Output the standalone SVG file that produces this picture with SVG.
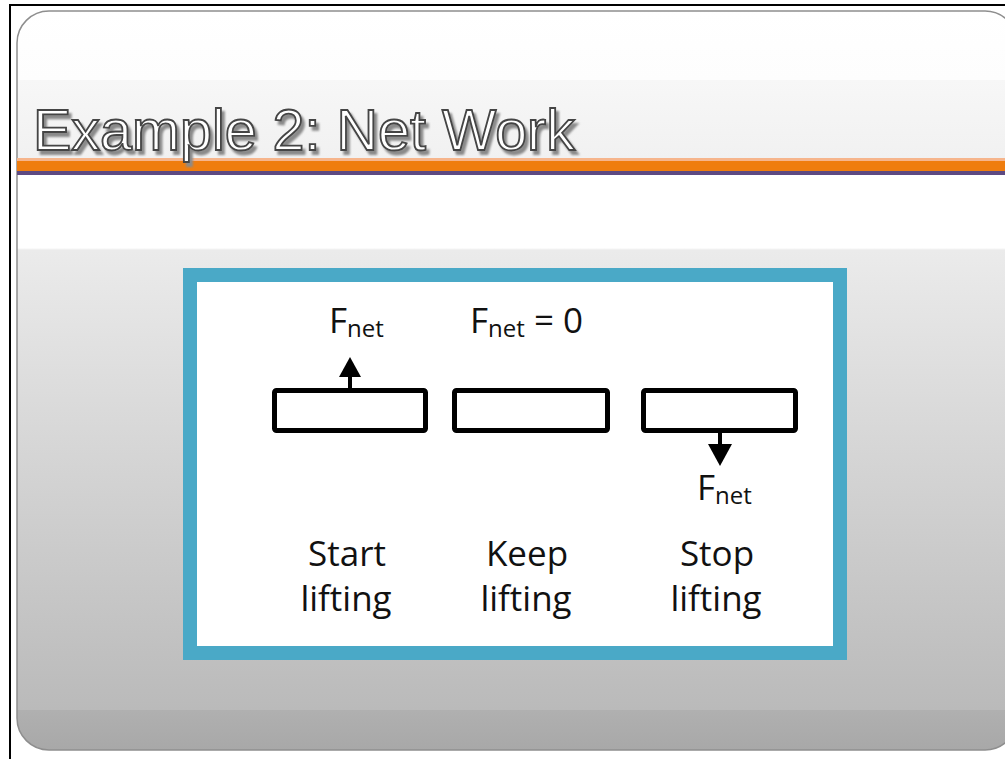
<svg xmlns="http://www.w3.org/2000/svg" width="1005" height="759" viewBox="0 0 1005 759">
  <style>
    .lbl { font-family: "Open Sans", "Noto Sans", sans-serif; font-size: 35px; fill: #111; }
    .sub { font-size: 24px; }
    .block { fill: #fff; stroke: #000; stroke-width: 5; }
    .arrow { stroke: #000; stroke-width: 4; fill: none; }
    .head { fill: #000; }
    .title { font-family: "Liberation Sans", Arial, sans-serif; font-size: 57px; }
  </style>
  <defs>
    <linearGradient id="slideBg" gradientUnits="userSpaceOnUse" x1="0" y1="11" x2="0" y2="750">
      <stop offset="0" stop-color="#ffffff"/>
      <stop offset="0.0934" stop-color="#fdfdfd"/>
      <stop offset="0.0934" stop-color="#f7f7f7"/>
      <stop offset="0.199" stop-color="#f1f1f1"/>
      <stop offset="0.2233" stop-color="#ffffff"/>
      <stop offset="0.3207" stop-color="#ffffff"/>
      <stop offset="0.3234" stop-color="#ebebeb"/>
      <stop offset="0.9459" stop-color="#bababa"/>
      <stop offset="0.9459" stop-color="#b0b0b0"/>
      <stop offset="1" stop-color="#a8a8a8"/>
    </linearGradient>
    <filter id="shadow" x="-5%" y="-30%" width="115%" height="170%">
      <feGaussianBlur in="SourceAlpha" stdDeviation="1.3" result="b"/>
      <feOffset in="b" dx="3" dy="4" result="o"/>
      <feFlood flood-color="#8a8a8a"/>
      <feComposite in2="o" operator="in" result="s"/>
      <feMerge>
        <feMergeNode in="s"/>
        <feMergeNode in="SourceGraphic"/>
      </feMerge>
    </filter>
  </defs>

  <rect x="0" y="0" width="1005" height="759" fill="#ffffff"/>

  <g id="slide">
    <rect x="17" y="11" width="1000" height="739" rx="32" ry="32" fill="url(#slideBg)" stroke="#8e8e8e" stroke-width="1.5"/>
    <rect x="17" y="158" width="988" height="3" fill="#f6b58c"/>
    <rect x="17" y="161" width="988" height="10" fill="#ef7d0e"/>
    <rect x="17" y="171" width="988" height="4" fill="#5d4a82"/>
  </g>

  <g id="frame" stroke="#000" stroke-width="2">
    <line x1="10" y1="4" x2="10" y2="759"/>
    <line x1="9" y1="5" x2="1005" y2="5"/>
  </g>

  <g id="title">
    <text class="title" x="33" y="150" textLength="542" lengthAdjust="spacingAndGlyphs" fill="#ffffff" stroke="#444444" stroke-width="1.8" filter="url(#shadow)">Example 2: Net Work</text>
  </g>

  <g id="panel">
    <rect x="190" y="275" width="650" height="378" fill="#ffffff" stroke="#4aa9c7" stroke-width="14"/>
  </g>

  <g id="box-start">
    <rect class="block" x="274.5" y="390.5" width="151" height="40" rx="2"/>
    <text class="lbl" x="329" y="333">F<tspan class="sub" dy="4">net</tspan></text>
    <text class="lbl" x="347" y="566" text-anchor="middle">Start</text>
    <text class="lbl" x="346" y="611" text-anchor="middle">lifting</text>
  </g>

  <g id="box-keep">
    <rect class="block" x="454.5" y="390.5" width="153" height="40" rx="2"/>
    <text class="lbl" x="470" y="333">F<tspan class="sub" dy="4">net</tspan><tspan dy="-4"> = 0</tspan></text>
    <text class="lbl" x="527" y="566" text-anchor="middle">Keep</text>
    <text class="lbl" x="526" y="611" text-anchor="middle">lifting</text>
  </g>

  <g id="box-stop">
    <rect class="block" x="643.5" y="390.5" width="152" height="40" rx="2"/>
    <text class="lbl" x="697" y="500">F<tspan class="sub" dy="4">net</tspan></text>
    <text class="lbl" x="717" y="566" text-anchor="middle">Stop</text>
    <text class="lbl" x="716" y="611" text-anchor="middle">lifting</text>
  </g>

  <g id="connectors">
    <line class="arrow" x1="350" y1="391" x2="350" y2="374"/>
    <polygon class="head" points="339,377 361,377 350,357"/>
    <line class="arrow" x1="720" y1="431" x2="720" y2="447"/>
    <polygon class="head" points="708,444 732,444 720,466"/>
  </g>
</svg>
